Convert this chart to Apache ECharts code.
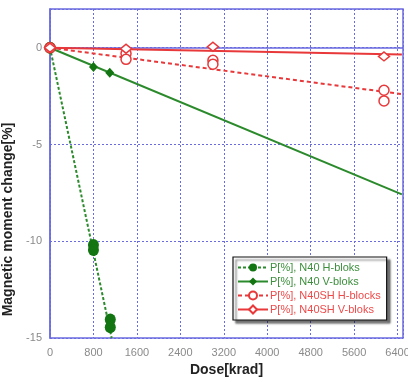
<!DOCTYPE html>
<html>
<head>
<meta charset="utf-8">
<script src="https://cdn.jsdelivr.net/npm/echarts@6/dist/echarts.min.js"></script>
<style>
html,body{margin:0;padding:0;background:#fff;}
#chart{width:408px;height:382px;}
</style>
</head>
<body>
<div id="chart"></div>
<script>
// Series names
const names = ['P[%], N40 H-bloks', 'P[%], N40 V-bloks', 'P[%], N40SH H-blocks', 'P[%], N40SH V-bloks'];
// Measured points [dose krad, change %]
const n40H = [[0,0],[800,-10.2],[800,-10.45],[1110,-14.05],[1110,-14.45]];
const n40V = [[0,0],[800,-1.0],[1100,-1.3]];
const n40shH = [[0,0],[1400,-0.3],[1400,-0.6],[3000,-0.65],[3000,-0.85],[6150,-2.2],[6150,-2.75]];
const n40shV = [[0,0],[1400,-0.05],[3000,0.05],[6150,-0.45]];
// Trend lines (start, end)
const n40HFit = [[0,0],[1135,-15]];
const n40VFit = [[0,0],[6480,-7.58]];
const n40shHFit = [[0,0],[6480,-2.4]];
const n40shVFit = [[0,0],[6480,-0.35]];
// Axis ticks
const xTicks = [0,800,1600,2400,3200,4000,4800,5600,6400];
const yTicks = [-15,-10,-5,0];

const GREEN = '#2b8a2b', GREEN_M = '#127512', RED = '#e8383a';

function fitSeries(name, data, color, type, symbol, size, fill){
  return {
    name: name, type: 'line', data: data.map((p,i)=> i===0 ? {value:p} : {value:p, symbol:'none'}),
    symbol: symbol, symbolSize: size, showSymbol: true,
    lineStyle: {color: color, width: 2, type: type},
    itemStyle: {color: fill, borderColor: color, borderWidth: fill==='#fff'?1.5:0},
    z: 2, animation: false
  };
}
function ptSeries(name, data, color, symbol, size, fill, z){
  return {
    name: name, type: 'scatter', data: data, symbol: symbol, symbolSize: size,
    itemStyle: {color: fill, borderColor: color, borderWidth: fill==='#fff'?1.5:0, opacity:1},
    z: z, animation: false
  };
}

const chart = echarts.init(document.getElementById('chart'), null, {renderer:'canvas'});
chart.setOption({
  backgroundColor: '#fff',
  animation: false,
  grid: {left: 50, right: 5, top: 9, bottom: 44, show: true, borderColor: '#6b6be0', borderWidth: 1.5, backgroundColor: 'transparent', containLabel: false, outerBoundsMode: 'none'},
  xAxis: {
    type: 'value', min: 0, max: 6500, interval: 800,
    name: 'Dose[krad]', nameLocation: 'middle', nameGap: 24,
    nameTextStyle: {fontFamily: 'Liberation Sans, Arial', fontSize: 14, color: '#222', fontWeight: 'bold'},
    axisLine: {show: true, lineStyle: {color: '#6b6be0', width: 1.5}},
    axisTick: {show: false},
    axisLabel: {color: '#8a8a8a', fontFamily: 'Liberation Sans, Arial', fontSize: 11, margin: 9,
      formatter: v => xTicks.indexOf(v) >= 0 ? String(v) : ''},
    splitLine: {show: true, lineStyle: {color: '#6b6be0', type: [2,2], width: 1}}
  },
  yAxis: {
    type: 'value', min: -15, max: 2, interval: 5,
    name: 'Magnetic moment change[%]', nameLocation: 'middle', nameGap: 26,
    nameTextStyle: {fontFamily: 'Liberation Sans, Arial', fontSize: 14, color: '#222', fontWeight: 'bold', padding: [0, 92, 0, 0]},
    axisLine: {show: true, lineStyle: {color: '#6b6be0', width: 1.5}},
    axisTick: {show: false},
    axisLabel: {color: '#8a8a8a', fontFamily: 'Liberation Sans, Arial', fontSize: 11, margin: 8,
      formatter: v => yTicks.indexOf(v) >= 0 ? String(v) : ''},
    splitLine: {show: true, lineStyle: {color: '#6b6be0', type: [2,2], width: 1}}
  },
  legend: {
    orient: 'vertical', left: 233, top: 257,
    itemWidth: 30, itemHeight: 10, itemGap: 3,
    padding: [5, 6, 5, 4],
    backgroundColor: '#fff', borderColor: '#111', borderWidth: 1.2,
    shadowColor: 'rgba(0,0,0,0.55)', shadowOffsetX: 3, shadowOffsetY: 3, shadowBlur: 2,
    textStyle: {fontFamily: 'Liberation Sans, Arial', fontSize: 11, padding: [0,0,0,-3]},
    data: [
      {name: names[0], textStyle: {color: '#3d8f3d'}},
      {name: names[1], textStyle: {color: '#3d8f3d'}},
      {name: names[2], textStyle: {color: '#ee4a4a'}},
      {name: names[3], textStyle: {color: '#ee4a4a'}}
    ]
  },
  series: [
    fitSeries(names[0], n40HFit, GREEN, [3,2], 'circle', 11, GREEN_M),
    fitSeries(names[1], n40VFit, GREEN, 'solid', 'diamond', 9, GREEN_M),
    fitSeries(names[2], n40shHFit, RED, [4,3], 'circle', 10, '#fff'),
    fitSeries(names[3], n40shVFit, RED, 'solid', 'diamond', 10, '#fff'),
    ptSeries(names[0], n40H, GREEN_M, 'circle', [11,12], GREEN_M, 5),
    ptSeries(names[1], n40V, GREEN_M, 'diamond', [9,10], GREEN_M, 5),
    ptSeries(names[2], n40shH, RED, 'circle', 10, '#fff', 6),
    ptSeries(names[3], n40shV, RED, 'diamond', [11,9], '#fff', 6)
  ]
});
</script>
</body>
</html>
